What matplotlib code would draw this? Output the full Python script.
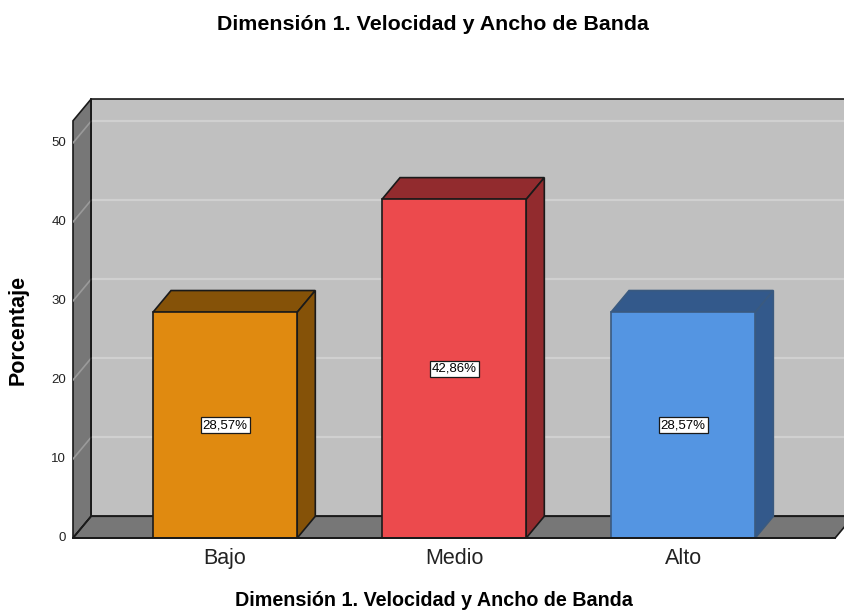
import matplotlib.pyplot as plt
from matplotlib.patches import Polygon

categories = ['Bajo', 'Medio', 'Alto']
porcentajes = [28.57, 42.86, 28.57]
etiquetas = ['28,57%', '42,86%', '28,57%']
yticks = [0, 10, 20, 30, 40, 50]

front_colors = ['#E08A10', '#EC4A4D', '#5495E2']
side_colors = ['#855208', '#922B2E', '#33598B']
edge_colors = ['#1a1a1a', '#1a1a1a', '#3a5a80']

plt.rcParams['font.family'] = ['Liberation Sans', 'DejaVu Sans']

fig = plt.figure(figsize=(8.45, 6.12), dpi=100)
# axes spans the front y-axis (x=73px) to the right edge, value 0 at y=538px
ax = fig.add_axes([73 / 845, (612 - 538) / 612, (845 - 73) / 845, 448 / 612])
ax.set_xlim(-0.664, 2.707)
ax.set_ylim(0, 56.7)
ax.axis('off')

x0, x1 = -0.664, 2.664   # front edges of the floor
dx, dy = 0.079, 2.75     # depth offset
top = 52.8
bw = 0.63

# back wall
ax.add_patch(Polygon([(x0 + dx, dy), (x1 + dx + 0.1, dy), (x1 + dx + 0.1, top + dy),
                      (x0 + dx, top + dy)], closed=True, fc='#C0C0C0', ec='#1a1a1a',
                     lw=1.2, clip_on=False, zorder=1))
# left wall
ax.add_patch(Polygon([(x0, 0), (x0 + dx, dy), (x0 + dx, top + dy), (x0, top)],
                     closed=True, fc='#777777', ec='#1a1a1a', lw=1.2, clip_on=False, zorder=2))
# floor
ax.add_patch(Polygon([(x0, 0), (x1, 0), (x1 + dx, dy), (x0 + dx, dy)],
                     closed=True, fc='#777777', ec='#1a1a1a', lw=1.2, clip_on=False, zorder=2))

# grid lines
for v in yticks[1:]:
    ax.plot([x0 + dx, x1 + dx + 0.1], [v + dy, v + dy], color='#D0D0D0', lw=1.6, zorder=1.5)
    ax.plot([x0, x0 + dx], [v, v + dy], color='#9A9A9A', lw=1.2, zorder=2.5)
ax.plot([x0, x0 + dx], [0, dy], color='#1a1a1a', lw=1.2, zorder=2.6)
ax.plot([x0 + dx, x0 + dx], [dy, top + dy], color='#1a1a1a', lw=1.2, zorder=2.6)

# tick labels
for v in yticks:
    ax.text(x0 - 0.03, v, str(v), ha='right', va='center', fontsize=9.5, color='#222222')

# bars
for i, (cat, val) in enumerate(zip(categories, porcentajes)):
    l, r = i - bw / 2, i + bw / 2
    ec = edge_colors[i]
    ax.add_patch(Polygon([(l, val), (r, val), (r + dx, val + dy), (l + dx, val + dy)],
                         closed=True, fc=side_colors[i], ec=ec, lw=1.2, zorder=3))
    ax.add_patch(Polygon([(r, 0), (r + dx, dy), (r + dx, val + dy), (r, val)],
                         closed=True, fc=side_colors[i], ec=ec, lw=1.2, zorder=3))
    ax.add_patch(Polygon([(l, 0), (r, 0), (r, val), (l, val)],
                         closed=True, fc=front_colors[i], ec=ec, lw=1.2, zorder=4))
    ax.text(i, val / 2, etiquetas[i], ha='center', va='center', fontsize=9.5, zorder=5,
            bbox=dict(boxstyle='square,pad=0.15', fc='white', ec='#1a1a1a', lw=0.9))
    ax.text(i, -2.6, cat, ha='center', va='center', fontsize=15.5, color='#222222')

ax.plot([x0, x1], [0, 0], color='#1a1a1a', lw=1.4, zorder=6, clip_on=False)

fig.text(433 / 845, 1 - 25 / 612, 'Dimensión 1. Velocidad y Ancho de Banda',
         ha='center', va='center', fontsize=15.4, fontweight='bold')
fig.text(434 / 845, 1 - 601 / 612, 'Dimensión 1. Velocidad y Ancho de Banda',
         ha='center', va='center', fontsize=14.2, fontweight='bold')
fig.text(18 / 845, 1 - 330 / 612, 'Porcentaje', rotation=90,
         ha='center', va='center', fontsize=15.5, fontweight='bold')

fig.savefig('out.png', dpi=100, facecolor='white')
